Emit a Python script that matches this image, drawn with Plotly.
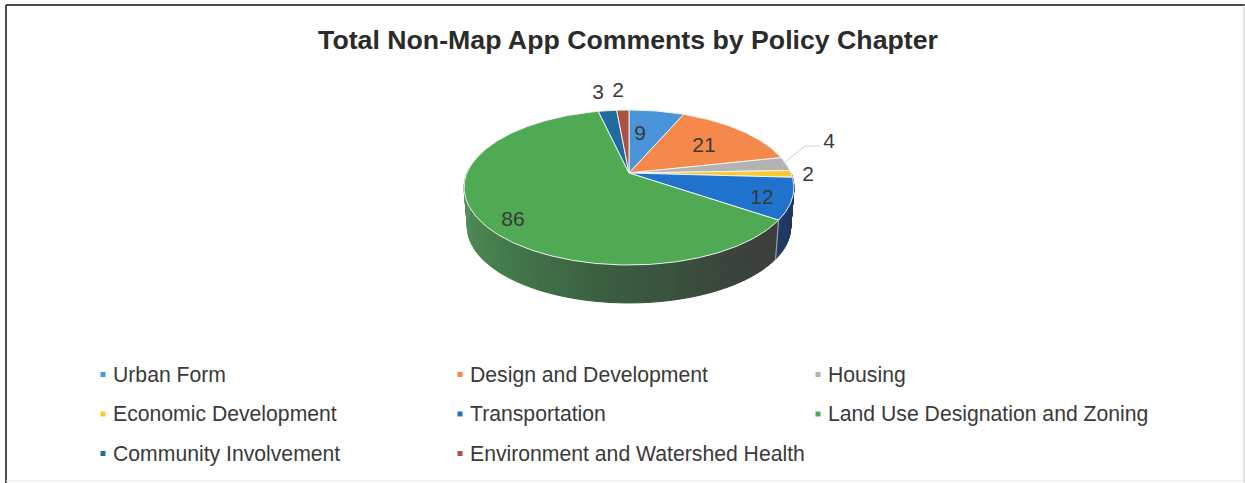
import numpy as np
import plotly.graph_objects as go

# Comment counts per policy chapter, clockwise from twelve o'clock
categories = [
    "Urban Form", "Design and Development", "Housing",
    "Economic Development", "Transportation", "Land Use Designation and Zoning",
    "Community Involvement", "Environment and Watershed Health",
]
comments = [9, 21, 4, 2, 12, 86, 3, 2]
slice_colors = ["#4A94DA", "#F5894B", "#B3B3B3", "#FBC82F",
                "#1F73CD", "#50A953", "#1F6A9E", "#AD5042"]

# Pixel-based plot area, so layout constants read directly
WIDTH, HEIGHT = 1245, 483
APEX_X, APEX_Y = 629.0, 173.0
SCALE_X, SCALE_Y, TILT = 162.0, 74.8, 0.187
DEPTH, BASE_SHRINK = 39.8, 0.98

# Label anchors, in slice order
label_anchor = [(640, 135), (704, 147), (829, 143), (808, 176),
                (762, 199), (513, 221), (598, 94), (618, 92)]
legend_cols = [103, 460, 818]
legend_rows = [376.5, 416, 455.5]
TEXT_GAP = 10
LABEL_SIZE = 21
KEY_SIZE = 21.2


def rim(theta, scale=1.0, drop=0.0):
    """Project an angle on the disc edge through the tilted-camera view."""
    u, v = np.sin(theta), np.cos(theta)
    w = 1 + TILT * v
    return (APEX_X + scale * SCALE_X * u / w,
            APEX_Y + drop - scale * SCALE_Y * v / w)


def lerp_color(stops, t):
    """Interpolate along a list of (position, rgb) colour stops."""
    pos = [s[0] for s in stops]
    chans = [np.interp(t, pos, [s[1][i] for s in stops]) for i in range(3)]
    return "rgb(%d,%d,%d)" % tuple(int(round(c)) for c in chans)


def polygon(xs, ys, fill, line=None, width=0.0):
    return go.Scatter(x=list(xs), y=list(ys), mode="lines", fill="toself",
                      fillcolor=fill, hoverinfo="skip", showlegend=False,
                      line=dict(color=line or fill, width=width))


total = sum(comments)
edges = np.cumsum([0] + comments) / total * 2 * np.pi
fig = go.Figure()

# Outer wall: only the near half of the rim is visible, shaded left to right
land_i = categories.index("Land Use Designation and Zoning")
trans_i = categories.index("Transportation")
wall_stops = {
    land_i: [(0.0, (90, 146, 92)), (0.3, (70, 128, 78)), (0.6, (58, 92, 64)),
             (0.85, (58, 68, 60)), (1.0, (60, 62, 60))],
    trans_i: [(0.0, (32, 52, 90)), (1.0, (34, 58, 102))],
}
for i, (a, b) in {trans_i: (np.pi * 0.5, edges[trans_i + 1]),
                  land_i: (edges[land_i], np.pi * 1.52)}.items():
    steps = np.linspace(a, b, 61)
    for j in range(len(steps) - 1):
        t0, t1 = steps[j], steps[j + 1]
        x0, y0 = rim(t0)
        x1, y1 = rim(t1)
        x2, y2 = rim(t1, BASE_SHRINK, DEPTH)
        x3, y3 = rim(t0, BASE_SHRINK, DEPTH)
        # Land Use shades from its far-left end to the right-hand boundary
        frac = (b - 0.5 * (t0 + t1)) / (b - a) if i == land_i else j / 60
        color = lerp_color(wall_stops[i], frac)
        fig.add_trace(polygon([x0, x1, x2, x3, x0], [y0, y1, y2, y3, y0],
                              color, color, 1.0))

# Light seam on the wall where Transportation meets Land Use
sx0, sy0 = rim(edges[land_i])
sx1, sy1 = rim(edges[land_i], BASE_SHRINK, DEPTH)
fig.add_trace(go.Scatter(x=[sx0, sx1], y=[sy0, sy1], mode="lines",
                         line=dict(color="#9a9f9a", width=1.2),
                         hoverinfo="skip", showlegend=False))

# Top face wedges
for i, name in enumerate(categories):
    arc = np.linspace(edges[i], edges[i + 1], max(8, comments[i] * 3))
    ax, ay = rim(arc)
    fig.add_trace(polygon(
        np.r_[APEX_X, ax, APEX_X], np.r_[APEX_Y, ay, APEX_Y],
        slice_colors[i], "#EDF2ED", 1.0))

# Leader for the Housing label
fig.add_trace(go.Scatter(x=[785, 805, 820], y=[162, 146, 146], mode="lines",
                         line=dict(color="#CFCFCF", width=1),
                         hoverinfo="skip", showlegend=False))

# Value labels
for i, (lx, ly) in enumerate(label_anchor):
    fig.add_trace(go.Scatter(
        x=[lx], y=[ly], mode="text", text=[str(comments[i])],
        textposition="middle center", hoverinfo="skip", showlegend=False,
        textfont=dict(family="Liberation Sans", size=LABEL_SIZE, color="#3A3A3A")))

# Key: three columns over three rows
for i, name in enumerate(categories):
    col, row = i % 3, i // 3
    fig.add_trace(go.Scatter(
        x=[legend_cols[col]], y=[legend_rows[row] - 2], mode="markers",
        marker=dict(symbol="square", size=5, color=slice_colors[i]),
        hoverinfo="skip", showlegend=False))
    fig.add_trace(go.Scatter(
        x=[legend_cols[col] + TEXT_GAP], y=[legend_rows[row]], mode="text",
        text=[name], textposition="middle right", hoverinfo="skip",
        showlegend=False,
        textfont=dict(family="Liberation Sans", size=KEY_SIZE, color="#3A3A3A")))

# Scanned page frame
frame = [
    dict(x0=6, x1=WIDTH, y0=5, y1=5, color="#4A4A4A", width=2),
    dict(x0=6, x1=6, y0=5, y1=HEIGHT, color="#4A4A4A", width=2),
    dict(x0=WIDTH - 1, x1=WIDTH - 1, y0=5, y1=HEIGHT, color="#C8C8C8", width=1),
    dict(x0=6, x1=WIDTH, y0=481, y1=481, color="#E4E4E4", width=1),
]
shapes = [dict(type="line", xref="x", yref="y", x0=f["x0"], x1=f["x1"],
               y0=f["y0"], y1=f["y1"], line=dict(color=f["color"], width=f["width"]))
          for f in frame]

fig.update_layout(
    width=WIDTH, height=HEIGHT, margin=dict(l=0, r=0, t=0, b=0),
    paper_bgcolor="white", plot_bgcolor="white", showlegend=False, shapes=shapes,
    title=dict(text="<b>Total Non-Map App Comments by Policy Chapter</b>",
               x=628 / WIDTH, xanchor="center", y=1 - 40 / HEIGHT, yanchor="middle",
               font=dict(family="Liberation Sans", size=26.7, color="#2B2B2B")),
    xaxis=dict(range=[0, WIDTH], visible=False, fixedrange=True),
    yaxis=dict(range=[HEIGHT, 0], visible=False, fixedrange=True),
)

fig.write_html("out.html", config={"displayModeBar": False})
